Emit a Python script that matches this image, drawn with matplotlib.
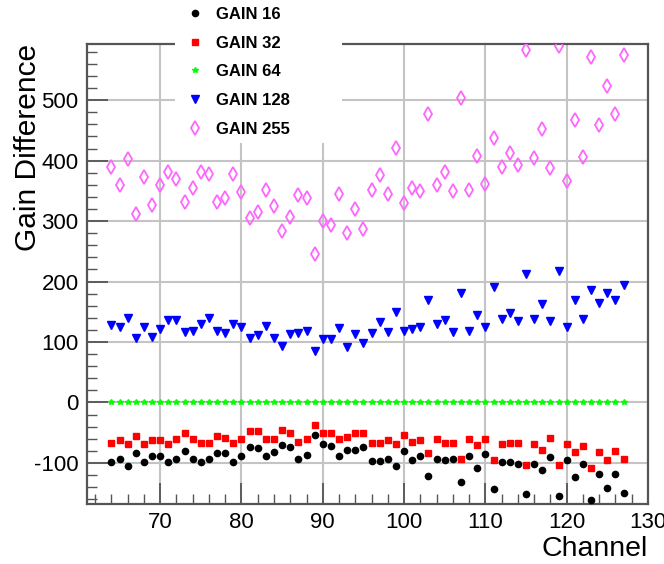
import matplotlib
matplotlib.use("Agg")
import matplotlib.pyplot as plt
from matplotlib.patches import Rectangle
from matplotlib.ticker import MultipleLocator

plt.rcParams['font.family'] = ['Liberation Sans', 'DejaVu Sans']
plt.rcParams['axes.unicode_minus'] = False

channels = list(range(64, 128))

gain16 = [-98, -93, -105, -83, -98, -89, -89, -98, -93, -80, -93, -98, -93, -83, -83, -98,
          -89, -73, -75, -89, -82, -71, -73, -94, -87, -54, -69, -72, -89, -78, -78, -73,
          -97, -97, -93, -105, -80, -96, -89, -122, -93, -96, -93, -131, -89, -108, -86, -144,
          -98, -98, -101, -151, -102, -111, -90, -155, -96, -123, -102, -162, -118, -141, -118, -149]

gain32 = [-67, -62, -69, -56, -69, -62, -62, -69, -61, -50, -61, -67, -67, -56, -58, -67,
          -61, -47, -47, -61, -60, -46, -50, -65, -61, -37, -50, -50, -61, -57, -51, -51,
          -67, -67, -62, -68, -54, -66, -62, -83, -61, -67, -67, -93, -60, -71, -61, -95,
          -69, -67, -67, -104, -68, -79, -58, -104, -68, -82, -72, -108, -82, -95, -81, -94]

gain64 = [0] * 64

gain128 = [128, 124, 140, 107, 124, 109, 122, 137, 137, 116, 119, 130, 140, 119, 115, 129,
           125, 107, 112, 127, 107, 93, 113, 115, 119, 85, 105, 105, 123, 91, 113, 98,
           115, 133, 117, 150, 119, 121, 125, 170, 129, 137, 117, 181, 119, 145, 125, 191,
           138, 148, 134, 212, 138, 163, 135, 218, 125, 169, 138, 186, 164, 181, 169, 195]

gain255 = [389, 360, 403, 312, 373, 326, 360, 381, 370, 332, 354, 381, 378, 332, 338, 378,
           348, 305, 315, 352, 325, 283, 307, 344, 338, 245, 301, 293, 345, 280, 320, 287,
           352, 377, 345, 421, 330, 354, 349, 477, 360, 382, 349, 503, 352, 407, 362, 438,
           390, 413, 392, 583, 405, 452, 388, 590, 367, 467, 406, 572, 459, 524, 477, 574]

labels = ["GAIN 16", "GAIN 32", "GAIN 64", "GAIN 128", "GAIN 255"]

W, H = 664, 564
fig = plt.figure(figsize=(W / 100, H / 100), dpi=100)
ax = fig.add_axes([87 / W, 1 - 504 / H, (648 - 87) / W, (504 - 44) / H])

styles = [
    dict(marker='o', color='black', ms=4.5, ls='none'),
    dict(marker='s', color='#ff0000', ms=4.3, ls='none'),
    dict(marker='*', color='#00ff00', ms=4.2, ls='none'),
    dict(marker='v', color='#0000ff', ms=5.2, ls='none'),
    dict(marker='d', color='#ff66ff', mfc='none', mec='#ff66ff', mew=1.3, ms=7.2, ls='none'),
]
series = [gain16, gain32, gain64, gain128, gain255]
handles = []
for s, st, lab in zip(series, styles, labels):
    h, = ax.plot(channels, s, zorder=3, label=lab, **st)
    handles.append(h)

ax.set_xlim(61, 130)
ax.set_ylim(-168, 593)
ax.xaxis.set_major_locator(MultipleLocator(10))
ax.xaxis.set_minor_locator(MultipleLocator(2))
ax.yaxis.set_major_locator(MultipleLocator(100))
ax.yaxis.set_minor_locator(MultipleLocator(20))
ax.grid(True, which='major', color='#c4c4c4', lw=1.5, zorder=0)
ax.set_axisbelow(True)
ax.tick_params(which='both', direction='in', top=False, right=False, color='#555555')
ax.tick_params(which='major', length=15, width=1.3, labelsize=16, pad=6)
ax.tick_params(which='minor', length=7, width=1.0)
for sp in ax.spines.values():
    sp.set_color('#555555')
    sp.set_linewidth(1.6)

ax.set_xlabel("Channel", fontsize=20.5, loc='right')
ax.set_ylabel("Gain Difference", fontsize=21.5, loc='top')
ax.xaxis.set_label_coords(1.0, -0.07)
ax.yaxis.set_label_coords(-0.08, 1.0)

# legend background box
fig.add_artist(Rectangle((175 / W, 1 - 143 / H), (342 - 175) / W, 143 / H,
                         transform=fig.transFigure, facecolor='white', edgecolor='none', zorder=3))

leg = fig.legend(handles=handles, labels=labels, loc='upper left',
                 bbox_to_anchor=(187 / W, 1 - 7 / H), frameon=False,
                 prop=dict(family='Liberation Sans', weight='bold', size=12),
                 handlelength=1.0, handletextpad=0.75, labelspacing=0.82,
                 borderpad=0, borderaxespad=0, numpoints=1)
leg.set_zorder(5)

fig.savefig("out.png", dpi=100)
